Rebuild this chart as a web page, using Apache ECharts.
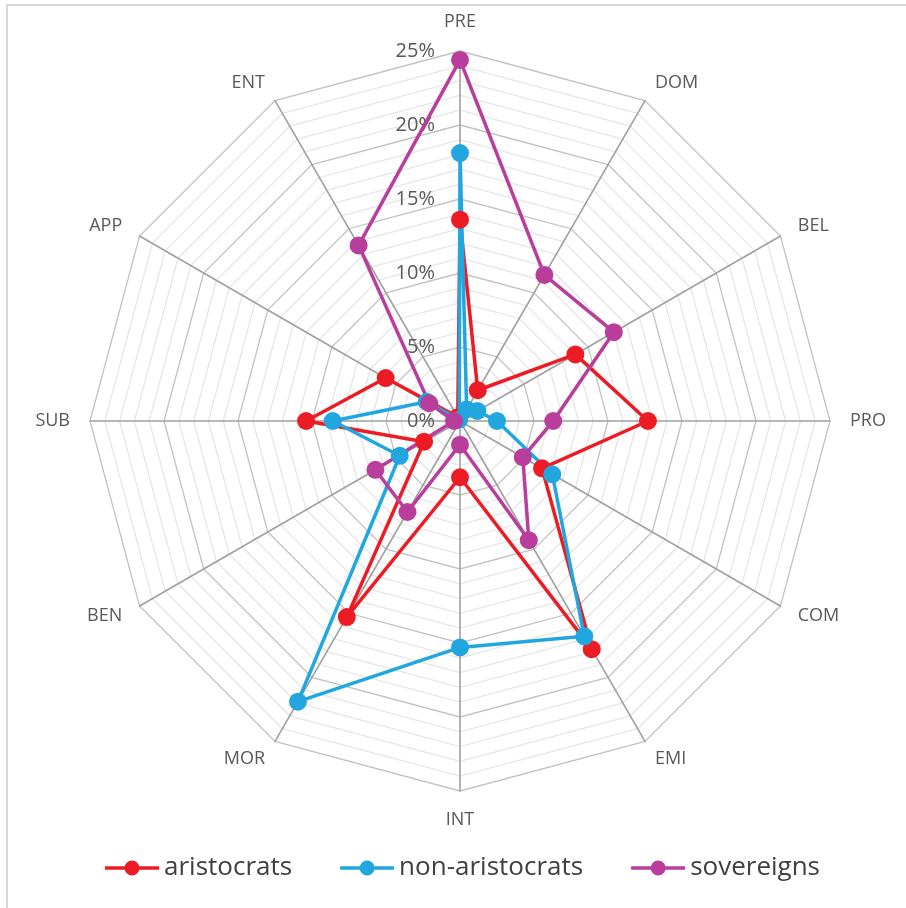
<!DOCTYPE html>
<html>
<head>
<meta charset="utf-8">
<script src="https://cdn.jsdelivr.net/npm/echarts@6/dist/echarts.min.js"></script>
<style>
html,body{margin:0;padding:0;background:#fff;}
#chart{width:906px;height:908px;}
</style>
</head>
<body>
<div id="chart"></div>
<script>
// Categories clockwise from top
var categories = ['PRE','DOM','BEL','PRO','COM','EMI','INT','MOR','BEN','SUB','APP','ENT'];
var aristocrats    = [13.6, 2.4, 9.0, 12.7, 6.4, 17.8, 3.8, 15.3, 2.8, 10.4, 5.8, 0.3];
var nonAristocrats = [18.1, 0.9, 1.35, 2.5, 7.2, 16.8, 15.3, 21.9, 4.7, 8.6, 2.6, 0.1];
var sovereigns     = [24.4, 11.4, 12.0, 6.3, 4.9, 9.3, 1.6, 7.1, 6.6, 0.4, 2.4, 13.7];
var seriesNames = ['aristocrats','non-aristocrats','sovereigns'];
var seriesColors = ['#ED1C24','#21A6DF','#B93E9C'];
var tickMax = 25, tickStep = 5;

// ECharts radar places indicators counter-clockwise; reorder for clockwise layout
var order = [0];
for (var i = categories.length - 1; i >= 1; i--) order.push(i);
function reorder(arr){ return order.map(function(k){ return arr[k]; }); }

var FONT = '"Open Sans", "Noto Sans", sans-serif';
var chart = echarts.init(document.getElementById('chart'), null, {renderer:'canvas'});
var allData = [aristocrats, nonAristocrats, sovereigns];

var option = {
  backgroundColor: '#ffffff',
  animation: false,
  graphic: [
    {type:'line', shape:{x1:6, y1:5, x2:906, y2:5}, style:{stroke:'#d9d9d9', lineWidth:2}},
    {type:'line', shape:{x1:7, y1:4, x2:7, y2:908}, style:{stroke:'#d9d9d9', lineWidth:2}}
  ],
  legend: {
    data: seriesNames,
    top: 850,
    left: 100,
    itemWidth: 54,
    itemHeight: 16,
    itemGap: 48,
    icon: 'path://M0,6.2H54V9.8H0Z M27,0.5A7.5,7.5,0,1,1,27,15.5A7.5,7.5,0,1,1,27,0.5Z',
    textStyle: {fontSize: 26, color: '#404040', fontFamily: FONT}
  },
  radar: {
    center: [460, 421],
    radius: 370,
    startAngle: 90,
    shape: 'polygon',
    splitNumber: tickMax,
    indicator: reorder(categories).map(function(n){ return {name:n, min:0, max:tickMax}; }),
    axisName: {color:'#595959', fontSize:18, fontFamily: FONT},
    nameGap: 20,
    splitArea: {show:false},
    splitLine: {lineStyle:{color:['#c2c2c2','#e6e6e6','#e6e6e6','#e6e6e6','#e6e6e6'], width:1.3}},
    axisLine: {lineStyle:{color:'#a0a0a0', width:1.6}},
    axisTick: {show:false},
    axisLabel: {show:false}
  },
  polar: {center:[460,421], radius:370},
  angleAxis: {show:false, type:'value', startAngle:90, min:0, max:360},
  radiusAxis: {
    type:'value', min:0, max:tickMax, interval:tickStep,
    axisLine:{show:false}, axisTick:{show:false}, splitLine:{show:false},
    axisLabel:{formatter:'{value}%', fontSize:20, color:'#595959', fontFamily: FONT, margin:25}
  },
  series: [
    {
      type: 'radar',
      symbol: 'circle',
      symbolSize: 18,
      data: allData.map(function(arr, k){
        return {
          name: seriesNames[k],
          value: reorder(arr),
          lineStyle: {color: seriesColors[k], width: 3.5},
          itemStyle: {color: seriesColors[k]}
        };
      })
    },
    {type:'scatter', coordinateSystem:'polar', data:[], silent:true}
  ]
};
chart.setOption(option);
</script>
</body>
</html>
